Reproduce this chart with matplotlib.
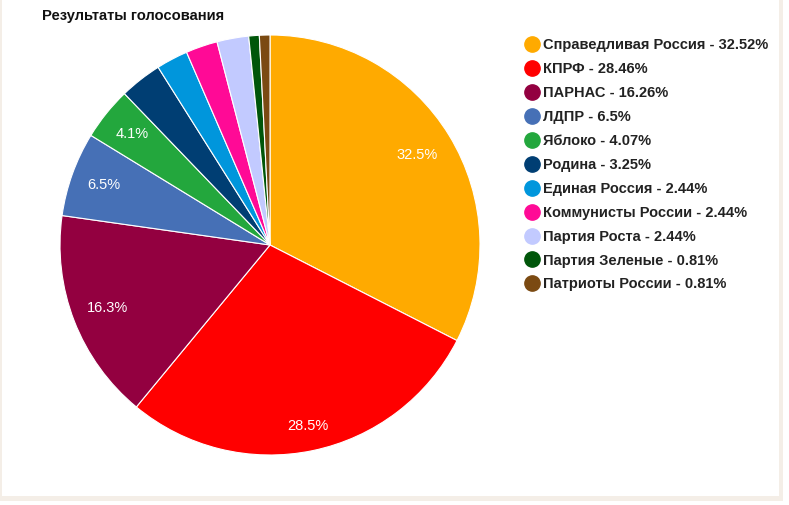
import numpy as np
import matplotlib
matplotlib.use('Agg')
import matplotlib.pyplot as plt
from matplotlib.lines import Line2D
from matplotlib.patches import Rectangle

plt.rcParams['font.family'] = ['Liberation Sans', 'DejaVu Sans']

parties = ['Справедливая Россия', 'КПРФ', 'ПАРНАС', 'ЛДПР', 'Яблоко', 'Родина',
           'Единая Россия', 'Коммунисты России', 'Партия Роста', 'Партия Зеленые',
           'Патриоты России']
shares = [32.52, 28.46, 16.26, 6.5, 4.07, 3.25, 2.44, 2.44, 2.44, 0.81, 0.81]
share_labels = ['32.52%', '28.46%', '16.26%', '6.5%', '4.07%', '3.25%',
                '2.44%', '2.44%', '2.44%', '0.81%', '0.81%']
colors = ['#ffaa00', '#ff0000', '#930040', '#4670b6', '#23a73d', '#003e73',
          '#0096dc', '#ff0a96', '#c2caff', '#00560a', '#7b4a12']
# radial placement of the slice labels (fraction of radius)
label_r = [0.82, 0.88, 0.83, 0.84, 0.84]

W, H = 789, 505
fig = plt.figure(figsize=(W / 100, H / 100), dpi=100)
fig.patch.set_facecolor('white')

# beige frame
frame = fig.add_axes([0, 0, 1, 1], zorder=-5)
frame.set_xlim(0, W)
frame.set_ylim(H, 0)
frame.axis('off')
beige = '#f4eee7'
frame.add_patch(Rectangle((0, 0), 2.5, 500, color=beige, lw=0))
frame.add_patch(Rectangle((779, 0), 4.5, 500, color=beige, lw=0))
frame.add_patch(Rectangle((0, 496), 783.5, 4.5, color=beige, lw=0))

# pie axes: center (270,245), radius 210 px
cx, cy, r = 270, 245, 210
ax = fig.add_axes([(cx - r) / W, 1 - (cy + r) / H, 2 * r / W, 2 * r / H])
wedges, _ = ax.pie(shares, colors=colors, startangle=90, counterclock=False,
                   radius=1.0, wedgeprops=dict(edgecolor='white', linewidth=0.8))
ax.set_xlim(-1, 1)
ax.set_ylim(-1, 1)
ax.set_aspect('equal')
ax.axis('off')

for i, w in enumerate(wedges[:len(label_r)]):
    ang = np.deg2rad((w.theta1 + w.theta2) / 2)
    ax.text(label_r[i] * np.cos(ang), label_r[i] * np.sin(ang),
            f'{shares[i]:.1f}%', color='white', fontsize=10.5,
            ha='center', va='center')

fig.text(42 / W, 1 - 16 / H, 'Результаты голосования', fontsize=10.6,
         fontweight='bold', color='#111111', va='center', ha='left')

handles = [Line2D([], [], marker='o', linestyle='', markersize=11,
                  markerfacecolor=c, markeredgecolor=c) for c in colors]
names = [f'{p} - {s}' for p, s in zip(parties, share_labels)]
leg = fig.legend(handles, names, loc='upper left',
                 bbox_to_anchor=(514 / W, 1 - 31 / H), frameon=False,
                 prop=dict(size=10.5, weight='bold'), labelspacing=0.68,
                 handletextpad=0.1, handlelength=1.4, borderpad=0)
for t in leg.get_texts():
    t.set_color('#222222')

fig.savefig('out.png', dpi=100)
